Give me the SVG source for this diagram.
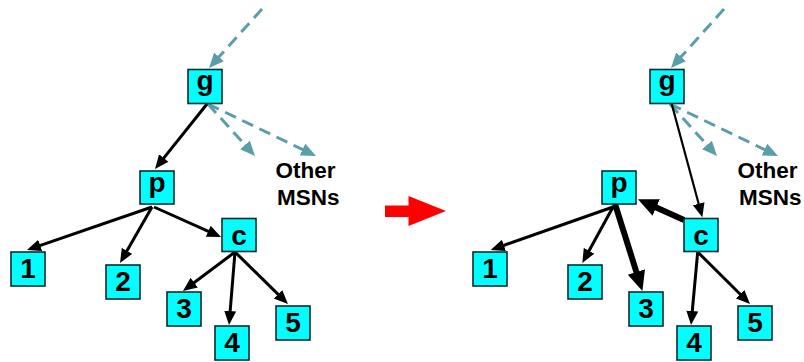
<svg xmlns="http://www.w3.org/2000/svg" width="804" height="362" viewBox="0 0 804 362">
  <style>
    .box { fill: #00ffff; stroke: #0d2b2b; stroke-width: 1.6; }
    .lbl { font-family: "Liberation Sans", Arial, sans-serif; font-weight: bold; font-size: 28px; fill: #000; text-anchor: middle; }
    .msn { font-family: "Liberation Sans", Arial, sans-serif; font-weight: bold; font-size: 22.5px; fill: #000; }
    .edge { stroke: #000; stroke-width: 3; fill: none; }
    .thin { stroke: #000; stroke-width: 2.2; fill: none; }
    .heavy { stroke: #000; stroke-width: 6; fill: none; }
    .dash { stroke: #5a9fa7; stroke-width: 3; stroke-dasharray: 12 7; fill: none; }
  </style>
  <defs>
    <marker id="arrow" markerUnits="userSpaceOnUse" markerWidth="15" markerHeight="13" refX="2" refY="6" orient="auto">
      <path d="M0,0 L14,6 L0,12 z" fill="#000"/>
    </marker>
    <marker id="arrowBig" markerUnits="userSpaceOnUse" markerWidth="22" markerHeight="20" refX="3" refY="9" orient="auto">
      <path d="M0,0 L20,9 L0,18 z" fill="#000"/>
    </marker>
    <marker id="arrowDash" markerUnits="userSpaceOnUse" markerWidth="16" markerHeight="14" refX="2" refY="6.5" orient="auto">
      <path d="M0,0 L15,6.5 L0,13 z" fill="#5a9fa7"/>
    </marker>
  </defs>

  <!-- transition arrow -->
  <g id="transition">
    <rect x="385" y="205.5" width="24" height="11.5" fill="#ff0000"/>
    <path d="M408.5,196 L446,211 L408.5,226 z" fill="#ff0000"/>
  </g>

  <!-- connectors -->
  <g id="connectors">
    <!-- before -->
    <line class="dash" x1="262" y1="9" x2="217.7" y2="58.3" marker-end="url(#arrowDash)"/>
    <line class="dash" x1="208" y1="104" x2="246.3" y2="146.4" marker-end="url(#arrowDash)"/>
    <line class="dash" x1="208" y1="104" x2="304.3" y2="150.4" marker-end="url(#arrowDash)"/>
    <line class="edge" x1="207" y1="104" x2="162.5" y2="159.6" marker-end="url(#arrow)"/>
    <line class="edge" x1="152" y1="207" x2="38.3" y2="246.1" marker-end="url(#arrow)"/>
    <line class="edge" x1="152" y1="207" x2="126" y2="252.6" marker-end="url(#arrow)"/>
    <line class="edge" x1="154" y1="207" x2="210.1" y2="232.1" marker-end="url(#arrow)"/>
    <line class="edge" x1="235" y1="252" x2="192.6" y2="283.8" marker-end="url(#arrow)"/>
    <line class="edge" x1="235" y1="252" x2="230" y2="313" marker-end="url(#arrow)"/>
    <line class="edge" x1="235" y1="252" x2="279.4" y2="295.6" marker-end="url(#arrow)"/>

    <!-- after -->
    <line class="dash" x1="724" y1="9" x2="679.7" y2="58.3" marker-end="url(#arrowDash)"/>
    <line class="dash" x1="670" y1="104" x2="708.3" y2="146.4" marker-end="url(#arrowDash)"/>
    <line class="dash" x1="670" y1="104" x2="766.3" y2="150.4" marker-end="url(#arrowDash)"/>
    <line class="thin" x1="671.7" y1="104" x2="699.2" y2="205.7" marker-end="url(#arrow)"/>
    <line class="heavy" x1="684" y1="220" x2="653.5" y2="206.3" marker-end="url(#arrowBig)"/>
    <line class="edge" x1="613" y1="207" x2="502" y2="246" marker-end="url(#arrow)"/>
    <line class="edge" x1="613" y1="207" x2="588.1" y2="252.5" marker-end="url(#arrow)"/>
    <line class="heavy" x1="615" y1="204" x2="637.3" y2="274.8" marker-end="url(#arrowBig)"/>
    <line class="edge" x1="697.7" y1="252" x2="692.1" y2="313" marker-end="url(#arrow)"/>
    <line class="edge" x1="697.7" y1="252" x2="741.5" y2="295.5" marker-end="url(#arrow)"/>
  </g>

  <!-- nodes: before -->
  <g id="g-before"><rect class="box" x="188" y="69.5" width="34" height="34"/><text class="lbl" x="205" y="90">g</text></g>
  <g id="p-before"><rect class="box" x="140" y="171" width="34" height="33"/><text class="lbl" x="157" y="192">p</text></g>
  <g id="c-before"><rect class="box" x="222" y="218.5" width="34" height="33"/><text class="lbl" x="239" y="245">c</text></g>
  <g id="n1-before"><rect class="box" x="11" y="252" width="34" height="34"/><text class="lbl" x="28" y="278">1</text></g>
  <g id="n2-before"><rect class="box" x="106" y="265" width="34" height="34"/><text class="lbl" x="123" y="290.5">2</text></g>
  <g id="n3-before"><rect class="box" x="167" y="292" width="34" height="34"/><text class="lbl" x="184" y="317.5">3</text></g>
  <g id="n4-before"><rect class="box" x="215" y="326" width="34" height="34"/><text class="lbl" x="232" y="351.5">4</text></g>
  <g id="n5-before"><rect class="box" x="276" y="306" width="34" height="34"/><text class="lbl" x="293" y="331.5">5</text></g>
  <g id="msn-before">
    <text class="msn" x="275.5" y="178">Other</text>
    <text class="msn" x="277" y="205">MSNs</text>
  </g>

  <!-- nodes: after -->
  <g id="g-after"><rect class="box" x="650" y="69.5" width="34" height="34"/><text class="lbl" x="667" y="90">g</text></g>
  <g id="p-after"><rect class="box" x="602" y="171" width="34" height="33"/><text class="lbl" x="619" y="192">p</text></g>
  <g id="c-after"><rect class="box" x="684" y="218.5" width="34" height="33"/><text class="lbl" x="701" y="245">c</text></g>
  <g id="n1-after"><rect class="box" x="473" y="252" width="34" height="34"/><text class="lbl" x="490" y="278">1</text></g>
  <g id="n2-after"><rect class="box" x="568" y="265" width="34" height="34"/><text class="lbl" x="585" y="290.5">2</text></g>
  <g id="n3-after"><rect class="box" x="629" y="292" width="34" height="34"/><text class="lbl" x="646" y="317.5">3</text></g>
  <g id="n4-after"><rect class="box" x="677" y="326" width="34" height="34"/><text class="lbl" x="694" y="351.5">4</text></g>
  <g id="n5-after"><rect class="box" x="738" y="306" width="34" height="34"/><text class="lbl" x="755" y="331.5">5</text></g>
  <g id="msn-after">
    <text class="msn" x="737.5" y="178">Other</text>
    <text class="msn" x="739" y="205">MSNs</text>
  </g>
</svg>
